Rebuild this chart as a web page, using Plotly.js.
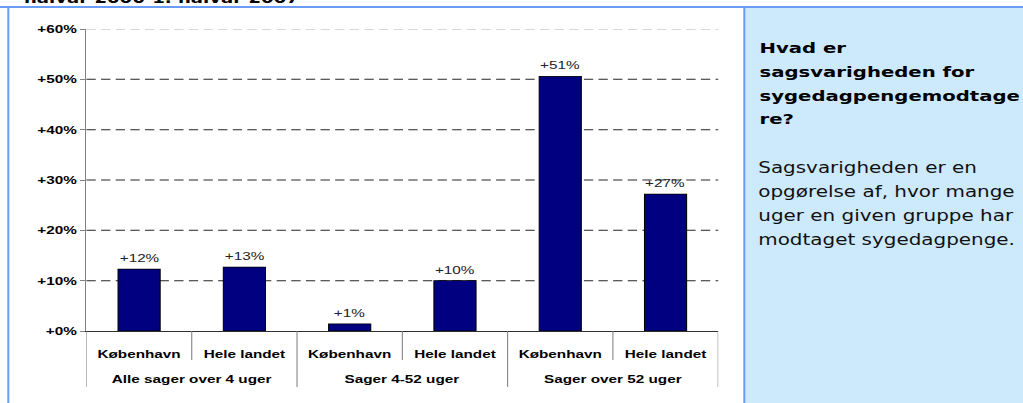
<!DOCTYPE html>
<html><head><meta charset="utf-8">
<script src="https://cdn.plot.ly/plotly-3.0.1.min.js"></script>
<style>
html,body{margin:0;padding:0;overflow:hidden;background:#fff;width:1023px;height:403px}
#wrap{width:1023px;height:403px;overflow:hidden;position:relative}
#chart{width:770px;height:403px;transform:scaleX(1.33);transform-origin:0 0}
</style></head><body><div id="wrap"><div id="chart"></div></div>
<script>
// ---- data ----
const subLabels = ['København','Hele landet','København','Hele landet','København','Hele landet'];
const groupLabels = ['Alle sager over 4 uger','Sager 4-52 uger','Sager over 52 uger'];
const groupOf = [0,0,1,1,2,2];
const values = [12.3, 12.7, 1.4, 10.0, 50.6, 27.2];
const yTicks = [0,10,20,30,40,50,60];
const titleText = 'halvår 2006-1. halvår 2007';
const panelHeading = ['Hvad er','sagsvarigheden for','sygedagpengemodtage','re?'];
const panelBody = ['Sagsvarigheden er en','opgørelse af, hvor mange','uger en given gruppe har','modtaget sygedagpenge.'];

// ---- layout helpers (unscaled px -> paper) ----
const W = 770, H = 403, ML = 65, MR = 230, MT = 29, MB = 72;
const PW = W - ML - MR, PH = H - MT - MB;
const px = u => (u - ML) / PW;
const py = v => (H - MB - v) / PH;
const S = 1.33;               // horizontal stretch of the reference
const rx = u => px(u / S);    // reference x -> paper

const xs = values.map((_, i) => i);
const arial = 'Liberation Sans, Arial, sans-serif';
const verdana = 'DejaVu Sans, Verdana, sans-serif';
const blue = '#6a9cf7';

const shapes = [];
// gridlines
yTicks.filter(t => t > 0).forEach(t => {
  shapes.push({type:'line', xref:'paper', yref:'y', x0:0, x1:1, y0:t, y1:t, layer:'below',
    line:{color: t === yTicks[yTicks.length-1] ? '#b0b0b0' : '#262626', width:1, dash:'7px,4px'}});
});
// category dividers
for (let i = 0; i <= xs.length; i++) {
  const isGroup = i === 0 || i === xs.length || groupOf[i] !== groupOf[i-1];
  shapes.push({type:'line', xref:'x', yref:'paper', x0:i-0.5, x1:i-0.5, y0:0, y1: py(isGroup ? 387 : 360),
    line:{color:'#808080', width:0.8}});
}
// side panel & frame
shapes.push({type:'rect', xref:'paper', yref:'paper', x0:rx(744.3), x1:px(W+20), y0:py(7), y1:py(H+20),
  fillcolor:'#cde9fc', line:{width:0}, layer:'below'});
shapes.push({type:'line', xref:'paper', yref:'paper', x0:rx(744.3), x1:rx(744.3), y0:py(7), y1:py(H+20), line:{color:blue, width:1.5}});
shapes.push({type:'line', xref:'paper', yref:'paper', x0:rx(8.3), x1:rx(8.3), y0:py(7), y1:py(H+20), line:{color:blue, width:1.5}});
shapes.push({type:'line', xref:'paper', yref:'paper', x0:px(-10), x1:px(W+20), y0:py(7), y1:py(7), line:{color:blue, width:2}});

const annotations = [];
// value labels
values.forEach((v, i) => annotations.push({x:i, y:v, xref:'x', yref:'y', yanchor:'bottom', yshift:3,
  text:'+' + Math.round(v) + '%', showarrow:false, font:{family:arial, size:11.5, color:'#222'}}));
// group labels
groupLabels.forEach((g, gi) => {
  const idx = xs.filter(i => groupOf[i] === gi);
  const cx = idx.reduce((a, b) => a + b, 0) / idx.length;
  annotations.push({x:cx, y:py(379.5), xref:'x', yref:'paper', yanchor:'middle', showarrow:false,
    text:g, font:{family:arial, size:11.5, color:'#000', weight:'bold'}});
});
// cut-off heading above the frame
annotations.push({x:rx(22), y:py(7.3), xref:'paper', yref:'paper', xanchor:'left', yanchor:'bottom', borderpad:0,
  showarrow:false, text:titleText, font:{family:verdana, size:13.6, color:'#000', weight:'bold'}});
// side panel text
const headBase = [52.7, 76.5, 100.3, 124];
panelHeading.forEach((t, k) => annotations.push({x:rx(758), y:py(headBase[k] - 5.2), xref:'paper', yref:'paper',
  xanchor:'left', yanchor:'middle', borderpad:0, showarrow:false, text:t,
  font:{family:verdana, size:14.8, color:'#000', weight:'bold'}}));
const bodyBase = [173, 197, 221, 245];
panelBody.forEach((t, k) => annotations.push({x:rx(757), y:py(bodyBase[k] - 5.2), xref:'paper', yref:'paper',
  xanchor:'left', yanchor:'middle', borderpad:0, showarrow:false, text:t,
  font:{family:verdana, size:15, color:'#111'}}));

const trace = {type:'bar', x:xs, y:values, width:0.4, hoverinfo:'none',
  marker:{color:'#000080', line:{color:'#000000', width:0.8}}};

const layout = {
  width:W, height:H, margin:{l:ML, r:MR, t:MT, b:MB, pad:0},
  paper_bgcolor:'#ffffff', plot_bgcolor:'#ffffff', showlegend:false,
  xaxis:{range:[-0.5, 5.5], tickvals:xs, ticktext:subLabels, showgrid:false, zeroline:false,
    showline:true, linecolor:'#303030', linewidth:1, ticks:'outside', ticklen:12, tickcolor:'rgba(0,0,0,0)',
    tickfont:{family:arial, size:11.5, color:'#000', weight:'bold'}, fixedrange:true},
  yaxis:{range:[0, 60], tickvals:yTicks, ticktext:yTicks.map(t => '+' + t + '%'), showgrid:false, zeroline:false,
    showline:true, linecolor:'#808080', linewidth:1, ticks:'outside', ticklen:4, tickcolor:'#808080',
    tickfont:{family:arial, size:11.5, color:'#000', weight:'bold'}, fixedrange:true},
  shapes, annotations
};
Plotly.newPlot('chart', [trace], layout, {displayModeBar:false, staticPlot:true});
</script></body></html>
